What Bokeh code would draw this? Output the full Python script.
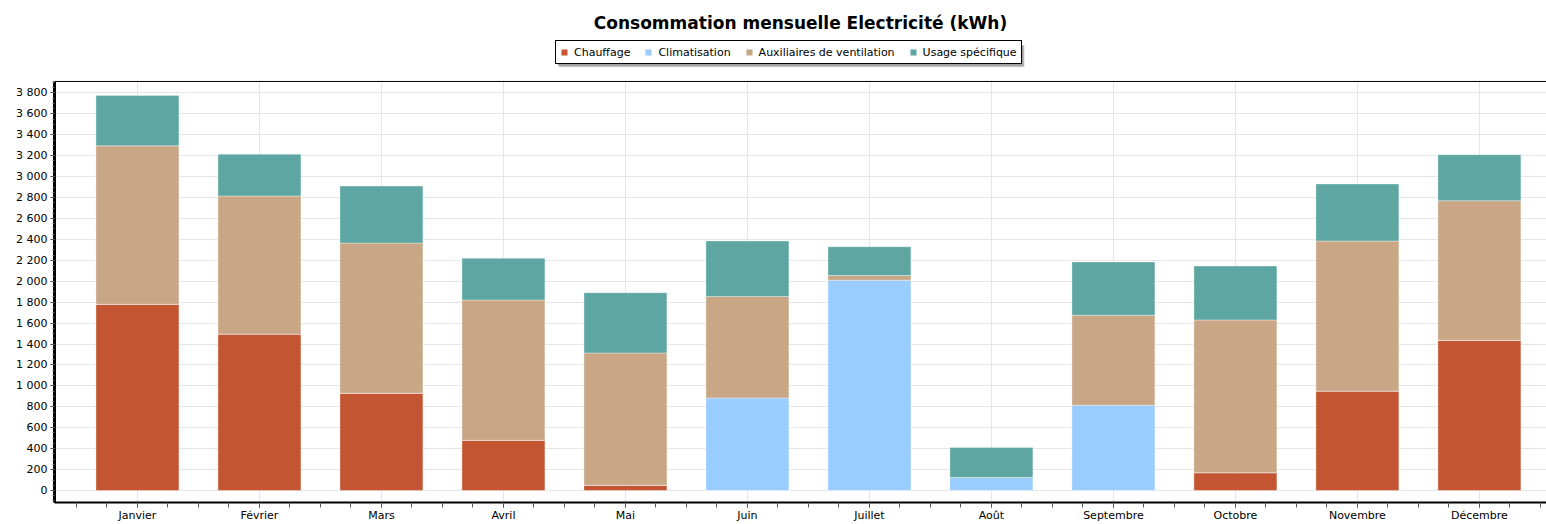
from bokeh.plotting import figure
from bokeh.models import ColumnDataSource, FixedTicker, Legend, LegendItem, Span, BoxAnnotation
from bokeh.embed import file_html
from bokeh.resources import INLINE

# Monthly electricity consumption (kWh) by end use
mois = ["Janvier", "Février", "Mars", "Avril", "Mai", "Juin", "Juillet",
        "Août", "Septembre", "Octobre", "Novembre", "Décembre"]
chauffage = [1780, 1495, 930, 480, 50, 0, 0, 0, 0, 170, 950, 1435]
climatisation = [0, 0, 0, 0, 0, 885, 2010, 125, 815, 0, 0, 0]
ventilation = [1515, 1320, 1435, 1340, 1265, 970, 45, 0, 860, 1460, 1435, 1335]
usage_specifique = [480, 400, 545, 400, 575, 530, 275, 285, 510, 515, 545, 440]

series = ["chauffage", "climatisation", "ventilation", "usage"]
labels = ["Chauffage", "Climatisation", "Auxiliaires de ventilation", "Usage spécifique"]
colors = ["#C45533", "#99CCFF", "#C8A686", "#5DA6A1"]
y_ticks = list(range(0, 3801, 200))

FONT = "DejaVu Sans"
Y_MIN, Y_TOP = -115, 3910      # visible value range of the chart area
Y_HEAD = 4359                  # extra headroom above the chart area for the legend

source = ColumnDataSource(dict(
    x=list(range(len(mois))),
    chauffage=chauffage,
    climatisation=climatisation,
    ventilation=ventilation,
    usage=usage_specifique,
))

p = figure(
    width=1546, height=524,
    x_range=(-0.68, 11.55), y_range=(Y_MIN, Y_HEAD),
    output_backend="svg", toolbar_location=None,
    min_border_left=54, min_border_right=0, min_border_bottom=0, min_border_top=34,
    background_fill_color="white", border_fill_color="white",
)
p.outline_line_color = None

p.title.text = "Consommation mensuelle Electricité (kWh)"
p.title.align = "center"
p.title.text_font = FONT
p.title.text_font_style = "bold"
p.title.text_font_size = "17px"
p.title.text_color = "#000000"
p.title.offset = -14
p.title.standoff = 4

renderers = p.vbar_stack(
    series, x="x", width=0.68, source=source,
    fill_color=colors, line_color="white", line_alpha=0.35, line_width=1,
)

# Blank band above the chart area (hides grid lines) and its top border
p.add_layout(BoxAnnotation(bottom=Y_TOP, fill_color="white", fill_alpha=1.0, line_color=None))
p.add_layout(Span(location=Y_TOP, dimension="width", line_color="black", line_width=1))

# Soft drop shadow behind the legend box
p.add_layout(BoxAnnotation(left=3.455, right=7.27, top=4251, bottom=4047,
                           fill_color="#9A9A9A", fill_alpha=0.55, line_color=None))
p.add_layout(BoxAnnotation(left=3.445, right=7.262, top=4259, bottom=4059,
                           fill_color="#7A7A7A", fill_alpha=0.5, line_color=None))

legend = Legend(
    items=[LegendItem(label=l, renderers=[r]) for l, r in zip(labels, renderers)],
    orientation="horizontal", location=(501, 438),
    label_text_font=FONT, label_text_font_size="11px", label_text_color="#000000",
    glyph_width=8, glyph_height=8, label_height=14, label_standoff=6,
    spacing=14, padding=4, margin=0,
    border_line_color="black", border_line_width=1, border_line_alpha=1.0,
    background_fill_color="white", background_fill_alpha=1.0,
)
p.add_layout(legend, "center")

# Grids
p.xgrid.ticker = FixedTicker(ticks=list(range(len(mois))))
p.xgrid.grid_line_color = "#E6E6E6"
p.ygrid.ticker = FixedTicker(ticks=y_ticks)
p.ygrid.grid_line_color = "#E6E6E6"

# X axis
p.xaxis.ticker = FixedTicker(
    ticks=list(range(len(mois))),
    minor_ticks=[i + k * 0.25 for i in range(-1, len(mois) + 1) for k in range(4)],
)
p.xaxis.major_label_overrides = {i: m for i, m in enumerate(mois)}
p.xaxis.axis_line_color = "black"
p.xaxis.axis_line_width = 2
p.xaxis.major_tick_out = 5
p.xaxis.major_tick_in = 0
p.xaxis.minor_tick_out = 5
p.xaxis.minor_tick_in = 0
p.xaxis.major_tick_line_color = "#555555"
p.xaxis.minor_tick_line_color = "#555555"
p.xaxis.major_label_standoff = 1
p.xaxis.major_label_text_font = FONT
p.xaxis.major_label_text_font_size = "11px"
p.xaxis.major_label_text_color = "#000000"

# Y axis
p.yaxis.bounds = (Y_MIN, Y_TOP)
p.yaxis.ticker = FixedTicker(ticks=y_ticks, minor_ticks=list(range(-100, 3901, 50)))
p.yaxis.major_label_overrides = {v: f"{v:,}".replace(",", " ") for v in y_ticks}
p.yaxis.axis_line_color = "black"
p.yaxis.axis_line_width = 3
p.yaxis.major_tick_out = 4
p.yaxis.major_tick_in = 0
p.yaxis.minor_tick_out = 2
p.yaxis.minor_tick_in = 0
p.yaxis.major_tick_line_color = "#444444"
p.yaxis.minor_tick_line_color = "#666666"
p.yaxis.major_label_standoff = 3
p.yaxis.major_label_text_font = FONT
p.yaxis.major_label_text_font_size = "11px"
p.yaxis.major_label_text_color = "#000000"

open("out.html", "w").write(file_html(p, INLINE))
